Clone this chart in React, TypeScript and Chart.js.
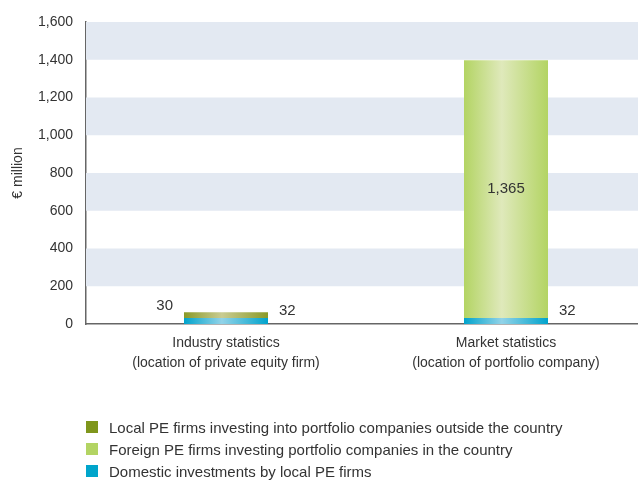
import React, { useEffect, useRef } from "react";
import { Chart, registerables } from "chart.js";

Chart.register(...registerables);

const categories: string[][] = [
  ["Industry statistics", "(location of private equity firm)"],
  ["Market statistics", "(location of portfolio company)"],
];
const domesticValues = [32, 32];
const localOutsideValues = [30, 0];
const foreignValues = [0, 1365];
const yTicks = [0, 200, 400, 600, 800, 1000, 1200, 1400, 1600];
const shadedBands: [number, number][] = [
  [200, 400],
  [600, 800],
  [1000, 1200],
  [1400, 1600],
];
const legendItems = [
  { label: "Local PE firms investing into portfolio companies outside the country", color: "#7f961c" },
  { label: "Foreign PE firms investing portfolio companies in the country", color: "#b3d463" },
  { label: "Domestic investments by local PE firms", color: "#00a5cb" },
];

const FONT = "'Liberation Sans Narrow', 'Arial Narrow', 'Liberation Sans', sans-serif";
const TEXT = "#333333";
const BAR_PCT = 0.3;

const gradientFill = (edge: string, mid: string) => (ctx: any) => {
  const chart = ctx.chart;
  const xs = chart.scales?.x;
  if (!xs || ctx.dataIndex === undefined) return edge;
  const cx = xs.getPixelForValue(ctx.dataIndex);
  const bw = (xs.width / categories.length) * BAR_PCT;
  if (!isFinite(cx) || !isFinite(bw) || bw <= 0) return edge;
  const g = chart.ctx.createLinearGradient(cx - bw / 2, 0, cx + bw / 2, 0);
  g.addColorStop(0, edge);
  g.addColorStop(0.45, mid);
  g.addColorStop(1, edge);
  return g;
};

const bandsPlugin = {
  id: "bands",
  beforeDatasetsDraw(chart: any) {
    const { ctx, chartArea, scales } = chart;
    ctx.save();
    ctx.fillStyle = "#e3e9f2";
    shadedBands.forEach(([a, b]) => {
      const y1 = scales.y.getPixelForValue(b);
      const y2 = scales.y.getPixelForValue(a);
      ctx.fillRect(chartArea.left, y1, chartArea.right - chartArea.left, y2 - y1);
    });
    ctx.restore();
  },
};

const labelsPlugin = {
  id: "valueLabels",
  afterDatasetsDraw(chart: any) {
    const ctx = chart.ctx;
    ctx.save();
    ctx.font = `15px ${FONT}`;
    ctx.fillStyle = TEXT;
    ctx.textBaseline = "middle";
    chart.data.datasets.forEach((ds: any, di: number) => {
      const meta = chart.getDatasetMeta(di);
      meta.data.forEach((el: any, i: number) => {
        const v = ds.data[i];
        if (!v) return;
        const { x, y, base, width } = el.getProps(["x", "y", "base", "width"], true);
        const txt = v.toLocaleString("en-US");
        if (ds.labelPos === "right") {
          ctx.textAlign = "left";
          ctx.fillText(txt, x + width / 2 + 11, base - 13);
        } else if (ds.labelPos === "left") {
          ctx.textAlign = "right";
          ctx.fillText(txt, x - width / 2 - 11, y - 6);
        } else {
          ctx.textAlign = "center";
          ctx.fillText(txt, x, (y + base) / 2);
        }
      });
    });
    ctx.restore();
  },
};

export default function App() {
  const ref = useRef<HTMLCanvasElement | null>(null);
  useEffect(() => {
    if (!ref.current) return;
    const chart = new Chart(ref.current, {
      type: "bar",
      data: {
        labels: categories as any,
        datasets: [
          {
            label: "Domestic investments by local PE firms",
            data: domesticValues,
            backgroundColor: gradientFill("#00a3cc", "#92d3e8"),
            labelPos: "right",
          } as any,
          {
            label: "Local PE firms investing into portfolio companies outside the country",
            data: localOutsideValues,
            backgroundColor: gradientFill("#8a9a28", "#c9cc92"),
            labelPos: "left",
          } as any,
          {
            label: "Foreign PE firms investing portfolio companies in the country",
            data: foreignValues,
            backgroundColor: gradientFill("#b3d463", "#dfe9bb"),
            labelPos: "center",
          } as any,
        ],
      },
      options: {
        animation: false,
        responsive: true,
        maintainAspectRatio: false,
        layout: { padding: { top: 22, left: 0, right: 0, bottom: 0 } },
        datasets: { bar: { barPercentage: BAR_PCT, categoryPercentage: 1, borderWidth: 0 } },
        plugins: { legend: { display: false }, tooltip: { enabled: false } },
        scales: {
          x: {
            stacked: true,
            offset: true,
            grid: { display: false, drawTicks: false },
            border: { display: true, color: "#666666", width: 1.5 },
            ticks: {
              color: TEXT,
              font: { family: FONT, size: 14, lineHeight: 1.45 },
              padding: 9,
              maxRotation: 0,
              autoSkip: false,
            },
            afterFit: (s: any) => {
              s.height = 158;
            },
          },
          y: {
            stacked: true,
            min: 0,
            max: 1600,
            afterBuildTicks: (s: any) => {
              s.ticks = yTicks.map((v) => ({ value: v }));
            },
            grid: { display: false, drawTicks: false },
            border: { display: true, color: "#666666", width: 1.5 },
            ticks: {
              color: TEXT,
              font: { family: FONT, size: 14 },
              padding: 13,
              callback: (v: any) => Number(v).toLocaleString("en-US"),
            },
            title: {
              display: true,
              text: "€ million",
              color: TEXT,
              font: { family: FONT, size: 14 },
              padding: { top: 10, bottom: 0 },
            },
            afterFit: (s: any) => {
              s.width = 86;
            },
          },
        },
      },
      plugins: [bandsPlugin, labelsPlugin],
    } as any);
    return () => chart.destroy();
  }, []);

  return (
    <div
      style={{
        position: "absolute",
        left: 0,
        top: 0,
        width: 638,
        height: 482,
        overflow: "hidden",
        background: "#fff",
        fontFamily: FONT,
      }}
    >
      <div style={{ position: "absolute", left: 0, top: 0, width: 646, height: 482 }}>
        <canvas ref={ref} />
      </div>
      <div style={{ position: "absolute", left: 86, top: 416 }}>
        {legendItems.map((it) => (
          <div
            key={it.label}
            style={{ display: "flex", alignItems: "center", height: 22, fontSize: 15, color: TEXT }}
          >
            <span
              style={{ width: 12, height: 12, background: it.color, display: "inline-block", marginRight: 11 }}
            />
            <span>{it.label}</span>
          </div>
        ))}
      </div>
    </div>
  );
}
